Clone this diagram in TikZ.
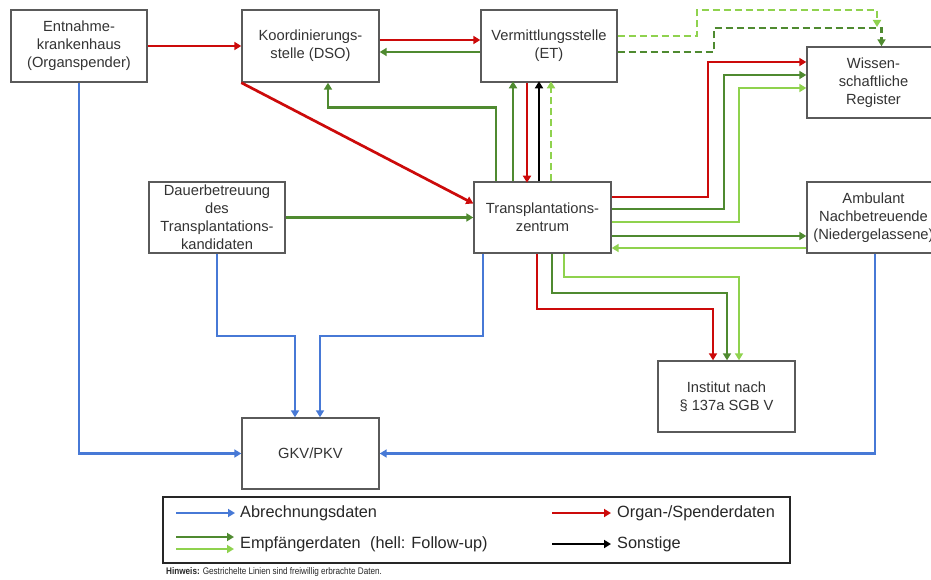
\documentclass[tikz,border=0pt]{standalone}
\usepackage{fontspec}
\setmainfont{Liberation Sans}
\newfontfamily\narrowfont[FakeStretch=0.85]{Liberation Sans}
\usetikzlibrary{arrows.meta}
\definecolor{cblue}{HTML}{4779D6}
\definecolor{cred}{HTML}{CC0A0A}
\definecolor{cdg}{HTML}{4F8A30}
\definecolor{clg}{HTML}{8FD24E}
\definecolor{cbox}{HTML}{5A5A5A}
\tikzset{
  box/.style={draw=cbox, line width=1.4pt, fill=white, inner sep=0pt, align=center,
    font=\fontsize{14.7}{18}\selectfont, text=black!80},
  con/.style={line width=2.7pt, -{Triangle[length=7pt,width=8pt]}},
  bl/.style={con, draw=cblue},
  rd/.style={con, draw=cred},
  dg/.style={con, draw=cdg},
  lg/.style={con, draw=clg},
  bk/.style={con, draw=black},
  dsh/.style={dash pattern=on 7pt off 4pt},
  legtext/.style={anchor=west, inner sep=0pt, font=\fontsize{16.3}{19}\selectfont, text=black!85},
}
\begin{document}
\begin{tikzpicture}[x=1pt, y=-1pt]
\useasboundingbox (0,0) rectangle (931,580);
\begin{scope}
\clip (0,0) rectangle (931,580);
% nodes
\node[box, minimum width=136pt, minimum height=72pt] (ent) at (79,46) {Entnahme-\\krankenhaus\\(Organspender)};
\node[box, minimum width=137pt, minimum height=72pt] (koord) at (310.5,46) {Koordinierungs-\\stelle (DSO)};
\node[box, minimum width=136pt, minimum height=72pt] (verm) at (549,46) {Vermittlungsstelle\\(ET)};
\node[box, minimum width=133pt, minimum height=71pt] (reg) at (873.5,82.5) {Wissen-\\schaftliche\\Register};
\node[box, minimum width=137pt, minimum height=71pt] (trans) at (542.5,217.5) {Transplantations-\\zentrum};
\node[box, minimum width=133pt, minimum height=71pt] (amb) at (873.5,217.5) {Ambulant\\Nachbetreuende\\(Niedergelassene)};
\node[box, minimum width=136pt, minimum height=71pt] (dauer) at (217,217.5) {Dauerbetreuung\\des\\Transplantations-\\kandidaten};
\node[box, minimum width=137pt, minimum height=71pt] (inst) at (726.5,396.5) {Institut nach\\§ 137a SGB V};
\node[box, minimum width=137pt, minimum height=71pt] (gkv) at (310.5,453.5) {GKV/PKV};

% top row
\draw[rd] (ent.east) -- (koord.west);
\draw[rd] ([yshift=6pt]koord.east) -- ([yshift=6pt]verm.west);
\draw[dg] ([yshift=-6pt]verm.west) -- ([yshift=-6pt]koord.east);
\draw[rd] (koord.south west) -- ([yshift=14pt]trans.west);
\draw[dg] ([xshift=-46.5pt]trans.north) -- ++(0,-74) -| ([xshift=17.5pt]koord.south);

% ET <-> TX
\draw[dg] ([xshift=-29.5pt]trans.north) -- ++(0,-100);
\draw[rd] ([xshift=-22pt]verm.south) -- ++(0,100);
\draw[bk] ([xshift=-3.5pt]trans.north) -- ++(0,-100);
\draw[lg, dsh] ([xshift=8.5pt]trans.north) -- ++(0,-100);

% ET -> Register dashed
\draw[lg, dsh] ([yshift=10pt]verm.east) -| (697,10) -| (877,27);
\draw[dg, dsh] ([yshift=-6pt]verm.east) -| (714,28) -| ([xshift=8pt]reg.north);

% TX -> Register
\draw[rd] ([yshift=20.5pt]trans.east) -| (708,62) -- ([yshift=20.5pt]reg.west);
\draw[dg] ([yshift=8.5pt]trans.east) -| (724,75) -- ([yshift=7.5pt]reg.west);
\draw[lg] ([yshift=-4.5pt]trans.east) -| (739,88) -- ([yshift=-5.5pt]reg.west);

% TX <-> Ambulant
\draw[dg] ([yshift=-18.5pt]trans.east) -- ([yshift=-18.5pt]amb.west);
\draw[lg] ([yshift=-30.5pt]amb.west) -- ([yshift=-30.5pt]trans.east);

% Dauer -> TX
\draw[dg] (dauer.east) -- (trans.west);

% TX -> Institut
\draw[rd] ([xshift=-5.5pt]trans.south) |- (713,309) -- ([xshift=-13.5pt]inst.north);
\draw[dg] ([xshift=9.5pt]trans.south) |- (727,293) -- ([xshift=0.5pt]inst.north);
\draw[lg] ([xshift=21.5pt]trans.south) |- (739,277) -- ([xshift=12.5pt]inst.north);

% billing
\draw[bl] (ent.south) |- (gkv.west);
\draw[bl] ([xshift=-59.5pt]trans.south) |- (320,336) -- ([xshift=9.5pt]gkv.north);
\draw[bl] (dauer.south) |- (295,336) -- ([xshift=-15.5pt]gkv.north);
\draw[bl] ([xshift=1.5pt]amb.south) |- (gkv.east);
\end{scope}

% legend
\node[draw=black!85, line width=1.5pt, minimum width=627pt, minimum height=66pt, inner sep=0pt] (leg) at (476.5,530) {};
\coordinate (l1a) at (176,513); \coordinate (l1b) at (235,513);
\coordinate (l2a) at (176,537); \coordinate (l2b) at (234,537);
\coordinate (l3a) at (176,549); \coordinate (l3b) at (234,549);
\coordinate (r1a) at (552,513); \coordinate (r1b) at (611,513);
\coordinate (r2a) at (552,544); \coordinate (r2b) at (611,544);
\draw[bl] (l1a) -- (l1b);
\draw[dg] (l2a) -- (l2b);
\draw[lg] (l3a) -- (l3b);
\draw[rd] (r1a) -- (r1b);
\draw[bk] (r2a) -- (r2b);
\node[legtext] (t1) at (240,513) {Abrechnungsdaten};
\node[legtext] (t2) at (240,544) {Empfängerdaten\hspace{0.3em} (hell: Follow-up)};
\node[legtext] (t3) at (617,513) {Organ-/Spenderdaten};
\node[legtext] (t4) at (617,544) {Sonstige};
\node[anchor=west, inner sep=0pt, font=\narrowfont\fontsize{9.6}{12}\selectfont, text=black!85] (hint) at (166,572) {\textbf{Hinweis:} Gestrichelte Linien sind freiwillig erbrachte Daten.};
\end{tikzpicture}
\end{document}
